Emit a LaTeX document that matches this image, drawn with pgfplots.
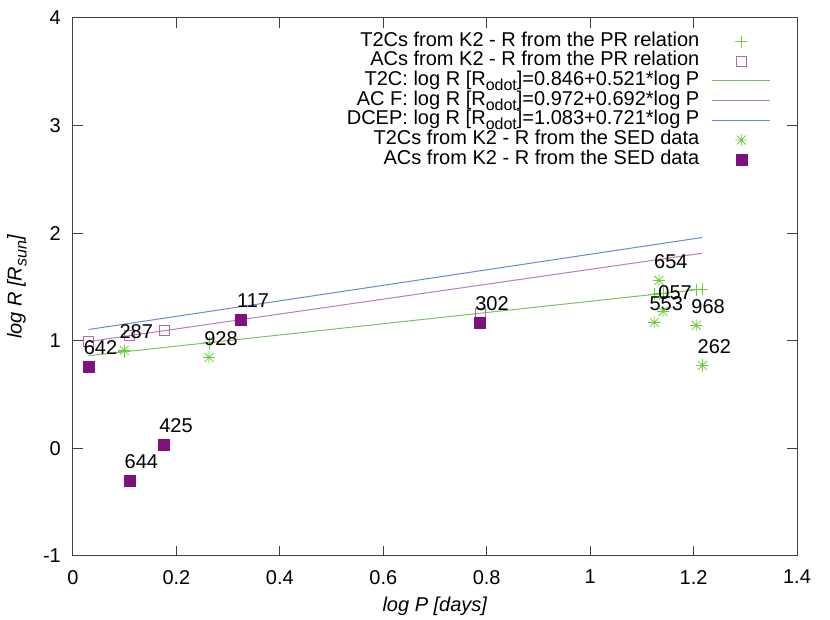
\documentclass[border=0pt]{standalone}
\usepackage{fontspec}
\setmainfont{Liberation Sans}
\usepackage{pgfplots}
\pgfplotsset{compat=1.18}

% gnuplot style asterisk: + and x on top of each other
\pgfdeclareplotmark{gpstar}{%
  \pgfpathmoveto{\pgfpoint{-\pgfplotmarksize}{0pt}}\pgfpathlineto{\pgfpoint{\pgfplotmarksize}{0pt}}%
  \pgfpathmoveto{\pgfpoint{0pt}{-\pgfplotmarksize}}\pgfpathlineto{\pgfpoint{0pt}{\pgfplotmarksize}}%
  \pgfpathmoveto{\pgfpoint{-0.75\pgfplotmarksize}{-0.75\pgfplotmarksize}}\pgfpathlineto{\pgfpoint{0.75\pgfplotmarksize}{0.75\pgfplotmarksize}}%
  \pgfpathmoveto{\pgfpoint{-0.75\pgfplotmarksize}{0.75\pgfplotmarksize}}\pgfpathlineto{\pgfpoint{0.75\pgfplotmarksize}{-0.75\pgfplotmarksize}}%
  \pgfusepathqstroke}

\definecolor{tgreen}{RGB}{110,205,60}
\definecolor{tline}{RGB}{130,190,90}
\definecolor{aline}{RGB}{185,125,185}
\definecolor{dline}{RGB}{105,135,220}
\definecolor{aopen}{RGB}{180,100,180}
\definecolor{afill}{RGB}{128,16,128}

\newcommand{\bigf}{\fontsize{20}{24}\selectfont}
\newcommand{\sub}[1]{\raisebox{-5pt}{\fontsize{16}{16}\selectfont #1}}

\begin{document}
\begin{tikzpicture}[font=\bigf]
\begin{axis}[
    scale only axis,
    width=724pt, height=538pt,
    xmin=0, xmax=1.4, ymin=-1, ymax=4,
    xtick={0,0.2,0.4,0.6,0.8,1,1.2,1.4},
    ytick={-1,0,1,2,3,4},
    minor tick num=0,
    tick pos=both, tick align=inside,
    major tick length=10pt,
    axis line style={black!75, line width=1pt},
    every tick/.style={black!75, line width=1pt},
    /pgf/number format/assume math mode=true,
    tick label style={font=\bigf, inner sep=0pt},
    yticklabel style={xshift=-12pt},
    xticklabel style={yshift=-14pt},
    xlabel={\textit{log P [days]}},
    ylabel={\textit{log R [R\sub{sun}]}},
    label style={font=\bigf},
    xlabel style={at={(axis description cs:0.5,0)}, anchor=center, yshift=-50pt},
    ylabel style={at={(axis description cs:0,0.5)}, anchor=center, yshift=56pt},
    legend plot pos=right,
    legend cell align=right,
    legend image code/.code={%
      \path[draw=none, fill=none] (0pt,-1pt) rectangle (71pt,1pt);
      \draw[mark repeat=2,mark phase=2,#1] plot coordinates {(13pt,0pt) (42pt,0pt) (71pt,0pt)};},
    legend style={at={(rel axis cs:1,1)}, anchor=north east,
      xshift=-26pt, yshift=-13.5pt, draw=none, fill=none,
      inner sep=0pt, row sep=0pt, column sep=0pt, font=\bigf,
      nodes={inner sep=0pt, text height=14.5pt, text depth=5.2pt}},
    clip=false,
]
% T2C, R from the PR relation
\addplot[only marks, mark=+, mark size=6pt, tgreen, line width=0.8pt] coordinates {
    (0.099,0.898) (0.263,0.983) (1.124,1.432) (1.133,1.436)
    (1.141,1.440) (1.205,1.474) (1.217,1.480)
};
\addlegendentry{T2Cs from K2 - R from the PR relation}
% AC, R from the PR relation
\addplot[only marks, mark=square, mark size=5pt, aopen, line width=0.8pt] coordinates {
    (0.030,0.993) (0.109,1.047) (0.176,1.094) (0.325,1.197) (0.787,1.256)
};
\addlegendentry{ACs from K2 - R from the PR relation}
% relations
\addplot[tline, line width=1pt] coordinates {(0.030,0.8616) (1.217,1.4801)};
\addlegendentry{T2C: log R [R\sub{odot}]=0.846+0.521*log P}
\addplot[aline, line width=1pt] coordinates {(0.030,0.9928) (1.217,1.8142)};
\addlegendentry{AC F: log R [R\sub{odot}]=0.972+0.692*log P}
\addplot[dline, line width=1pt] coordinates {(0.030,1.1046) (1.217,1.9605)};
\addlegendentry{DCEP: log R [R\sub{odot}]=1.083+0.721*log P}
% T2C, R from SED
\addplot[only marks, mark=gpstar, mark size=6pt, tgreen, line width=0.8pt,
    point meta=explicit symbolic, nodes near coords,
    nodes near coords style={text=black, font=\bigf, anchor=center, xshift=12pt, yshift=19pt, inner sep=0pt}]
    table[x=x, y=y, meta=lab, row sep=\\] {
    x y lab \\
    0.099 0.911 287 \\
    0.263 0.846 928 \\
    1.124 1.171 553 \\
    1.133 1.561 654 \\
    1.141 1.273 057 \\
    1.205 1.143 968 \\
    1.217 0.771 262 \\
};
\addlegendentry{T2Cs from K2 - R from the SED data}
% AC, R from SED
\addplot[only marks, mark=square*, mark size=5.5pt, afill, fill=afill,
    point meta=explicit symbolic, nodes near coords,
    nodes near coords style={text=black, font=\bigf, anchor=center, xshift=12pt, yshift=19pt, inner sep=0pt}]
    table[x=x, y=y, meta=lab, row sep=\\] {
    x y lab \\
    0.030 0.762 642 \\
    0.109 -0.297 644 \\
    0.176 0.037 425 \\
    0.325 1.199 117 \\
    0.787 1.166 302 \\
};
\addlegendentry{ACs from K2 - R from the SED data}
\end{axis}
\coordinate (bl) at ([shift={(-73pt,-64pt)}]current axis.south west);
\coordinate (tr) at ([shift={(33pt,18pt)}]current axis.north east);
\path (bl) rectangle (tr);
\end{tikzpicture}
\end{document}
